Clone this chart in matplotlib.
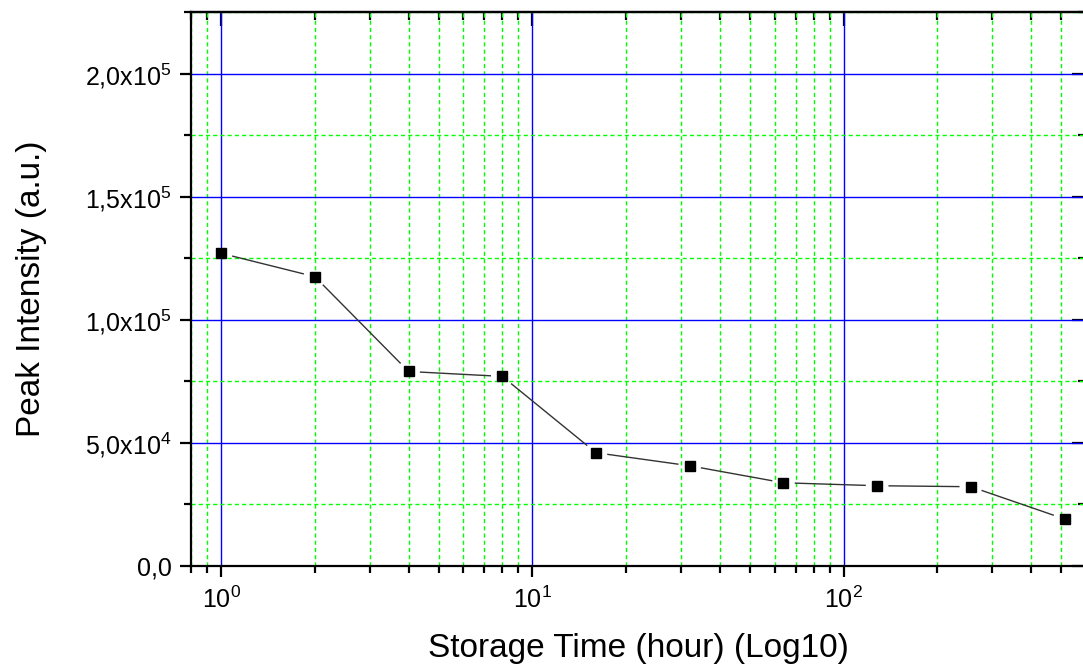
import numpy as np
import matplotlib
matplotlib.use("Agg")
import matplotlib.pyplot as plt
from matplotlib.ticker import LogLocator, MultipleLocator, FuncFormatter, NullFormatter

plt.rcParams['font.family'] = ['Liberation Sans', 'DejaVu Sans']
plt.rcParams['mathtext.fontset'] = 'custom'
plt.rcParams['mathtext.rm'] = 'Liberation Sans'
plt.rcParams['mathtext.it'] = 'Liberation Sans:italic'
plt.rcParams['mathtext.bf'] = 'Liberation Sans:bold'

# ================================================================================
# storage time (hour) and peak intensity (a.u.)
storage_hours = [1, 2, 4, 8, 16, 32, 64, 128, 256, 512]
peak_intensity = [127000, 117500, 79000, 77000, 46000, 40700, 33800, 32600, 32200, 19100]

x_label = "Storage Time (hour) (Log10)"
y_label = "Peak Intensity (a.u.)"

# ================================================================================
fig = plt.figure(figsize=(10.83, 6.66), dpi=100)
ax = fig.add_axes([191/1083, 100/666, 895/1083, 554/666])

ax.set_xscale('log')
ax.set_xlim(0.8, 600)
ax.set_ylim(0, 2.25e5)

ax.xaxis.set_major_locator(LogLocator(base=10))
ax.xaxis.set_minor_locator(LogLocator(base=10, subs=np.arange(2, 10)))
ax.xaxis.set_minor_formatter(NullFormatter())
ax.yaxis.set_major_locator(MultipleLocator(5e4))
ax.yaxis.set_minor_locator(MultipleLocator(2.5e4))


def sci_comma(v, pos):
  if abs(v) < 1:
    return "0,0"
  if v < 0:
    return ""
  exp = int(np.floor(np.log10(v)))
  mant = v / 10**exp
  return ("%.1f" % mant).replace(".", ",") + "x10$^{%d}$" % exp


ax.yaxis.set_major_formatter(FuncFormatter(sci_comma))

# grid: blue solid majors, green dashed minors
ax.set_axisbelow(True)
ax.grid(which='major', color='#0000ff', linewidth=1.0, linestyle='-')
ax.grid(which='minor', color='#00ff00', linewidth=1.0, linestyle=(0, (3, 2.2)))

for s in ax.spines.values():
  s.set_linewidth(1.6)

ax.tick_params(which='major', direction='out', length=8, width=1.6, labelsize=18, pad=6)
ax.tick_params(which='minor', direction='out', length=5, width=1.6)
ax.tick_params(axis='x', pad=7)

# inward ticks on top and right
top = ax.secondary_xaxis('top')
top.xaxis.set_major_locator(LogLocator(base=10))
top.xaxis.set_minor_locator(LogLocator(base=10, subs=np.arange(2, 10)))
top.tick_params(which='major', direction='in', length=10, width=1.6, labeltop=False)
top.tick_params(which='minor', direction='in', length=6, width=1.6)
top.xaxis.set_major_formatter(NullFormatter())
top.xaxis.set_minor_formatter(NullFormatter())
top.spines['top'].set_linewidth(1.6)

right = ax.secondary_yaxis('right')
right.yaxis.set_major_locator(MultipleLocator(5e4))
right.yaxis.set_minor_locator(MultipleLocator(2.5e4))
right.tick_params(which='major', direction='in', length=10, width=1.6, labelright=False)
right.tick_params(which='minor', direction='in', length=6, width=1.6)
right.spines['right'].set_linewidth(1.6)

# ================================================================================
# connecting line, broken a little around each marker
pts = ax.transData.transform(np.column_stack([storage_hours, peak_intensity]))
inv = ax.transData.inverted()
gap = 12
for p0, p1 in zip(pts[:-1], pts[1:]):
  d = p1 - p0
  L = np.hypot(*d)
  if L <= 2 * gap:
    continue
  u = d / L
  seg = inv.transform(np.array([p0 + u * gap, p1 - u * gap]))
  ax.plot(seg[:, 0], seg[:, 1], color='#333333', linewidth=1.0, zorder=3)

ax.plot(storage_hours, peak_intensity, linestyle='none', marker='s', markersize=7.6,
        color='black', zorder=4)

ax.set_xlabel(x_label, fontsize=24, labelpad=14)
ax.set_ylabel(y_label, fontsize=24, labelpad=27)

fig.savefig("out.png", dpi=100)
